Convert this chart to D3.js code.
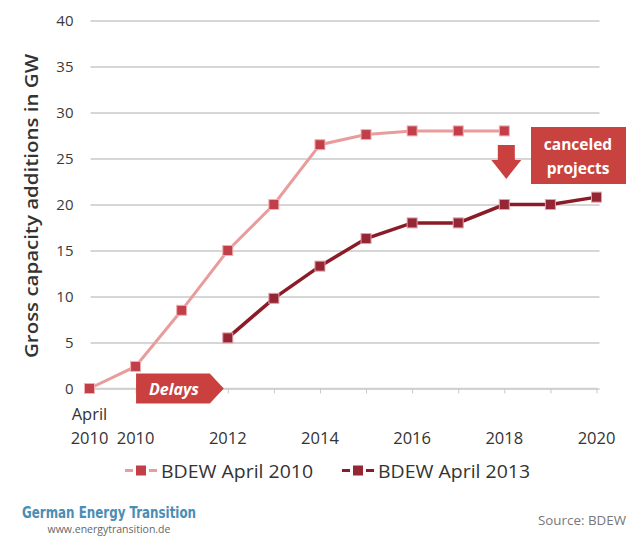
<!DOCTYPE html>
<html>
<head>
<meta charset="utf-8">
<script src="https://cdn.jsdelivr.net/npm/d3@7"></script>
<style>
  html, body { margin: 0; padding: 0; background: #fff; }
  svg { display: block; }
</style>
</head>
<body>
<svg id="chart" width="626" height="539"></svg>
<script>
const categories = ["April 2010","2010","2011","2012","2013","2014","2015","2016","2017","2018","2019","2020"];
const tickLabels = [["April","2010"],["2010"],[],["2012"],[],["2014"],[],["2016"],[],["2018"],[],["2020"]];
const seriesNames = ["BDEW April 2010","BDEW April 2013"];
const bdew2010 = [0, 2.4, 8.5, 15, 20, 26.5, 27.6, 28, 28, 28, null, null];
const bdew2013 = [null, null, null, 5.5, 9.8, 13.3, 16.3, 18, 18, 20, 20, 20.8];
const yTicks = [0,5,10,15,20,25,30,35,40];

(function () {
const FONT = "'Open Sans', 'DejaVu Sans', sans-serif";
const svg = d3.select("#chart");

const x = d3.scalePoint().domain(categories).range([89.5, 596.5]);
const y = d3.scaleLinear().domain([0, 40]).range([388.5, 20.5]);

// gridlines
const yAxis = d3.axisLeft(y).tickValues(yTicks).tickSize(-(596.5 - 89.5) - 2).tickPadding(17).tickFormat(d3.format("d"));
const gy = svg.append("g").attr("transform", "translate(90.5,0)").call(yAxis);
gy.select(".domain").remove();
gy.selectAll(".tick line").attr("stroke", "#d6d6d6").attr("stroke-width", 2);
gy.selectAll(".tick text").attr("fill", "#3a3a3a").style("font-family", FONT).style("font-size", "15px");

// x axis
const xAxis = d3.axisBottom(x).tickSize(5).tickFormat("");
const gx = svg.append("g").attr("transform", `translate(0,${y(0)})`).call(xAxis);
gx.select(".domain").attr("stroke", "#d0d0d0").attr("stroke-width", 1.5).attr("d", `M89.5,0H597`);
gx.selectAll(".tick line").attr("stroke", "#c8c8c8");

// x labels
categories.forEach((c, i) => {
  const lines = tickLabels[i];
  const t = svg.append("text").attr("text-anchor", "middle")
    .attr("fill", "#333").style("font-family", FONT).style("font-size", "16.5px");
  lines.forEach((ln, j) => {
    t.append("tspan").attr("x", x(c)).attr("y", 444 - (lines.length - 1 - j) * 24).text(ln);
  });
});

// y axis title
svg.append("text")
  .attr("transform", "translate(38,206) rotate(-90)")
  .attr("text-anchor", "middle")
  .attr("fill", "#333").style("font-family", FONT).style("font-size", "17.5px").style("font-weight", "600")
  .attr("textLength", 304).attr("lengthAdjust", "spacingAndGlyphs")
  .text("Gross capacity additions in GW");

// lines
const line = d3.line().defined(d => d.v != null).x(d => x(d.c)).y(d => y(d.v));
const d1 = categories.map((c, i) => ({c, v: bdew2010[i]}));
const d2 = categories.map((c, i) => ({c, v: bdew2013[i]}));

svg.append("path").datum(d1).attr("d", line).attr("fill", "none")
  .attr("stroke", "#e99c9c").attr("stroke-width", 3);
svg.append("path").datum(d2).attr("d", line).attr("fill", "none")
  .attr("stroke", "#8c1b28").attr("stroke-width", 3.5);

const ms = 10;
svg.append("g").selectAll("rect").data(d1.filter(d => d.v != null)).join("rect")
  .attr("x", d => x(d.c) - ms/2).attr("y", d => y(d.v) - ms/2)
  .attr("width", ms).attr("height", ms)
  .attr("fill", "#c23f4a").attr("stroke", "#f0b0b0").attr("stroke-width", 1);
svg.append("g").selectAll("rect").data(d2.filter(d => d.v != null)).join("rect")
  .attr("x", d => x(d.c) - ms/2).attr("y", d => y(d.v) - ms/2)
  .attr("width", ms).attr("height", ms)
  .attr("fill", "#952735").attr("stroke", "#e0a0a8").attr("stroke-width", 1);

// Delays arrow
const ax0 = x("2010") + 0.5, ax1 = x("2012") - 4, ay = y(0);
svg.append("path")
  .attr("d", `M${ax0},${ay-15}H${ax1-14}L${ax1},${ay}L${ax1-14},${ay+15}H${ax0}Z`)
  .attr("fill", "#c9403f");
svg.append("text").attr("x", (ax0 + ax1 - 12) / 2).attr("y", ay + 6)
  .attr("text-anchor", "middle").attr("fill", "#fff")
  .style("font-family", FONT).style("font-size", "16px").style("font-weight", "bold").style("font-style", "italic")
  .text("Delays");

// canceled projects
const cx = x("2018") + 2, arrowTop = y(28) + 14;
svg.append("path")
  .attr("d", `M${cx-8.5},${arrowTop}H${cx+8.5}V${arrowTop+15}H${cx+15}L${cx},${arrowTop+34}L${cx-15},${arrowTop+15}H${cx-8.5}Z`)
  .attr("fill", "#c9403f");
svg.append("rect").attr("x", 531).attr("y", 127).attr("width", 95).attr("height", 57).attr("fill", "#c8433f");
const ct = svg.append("text").attr("text-anchor", "middle").attr("fill", "#fff")
  .style("font-family", FONT).style("font-size", "15.5px").style("font-weight", "bold");
ct.append("tspan").attr("x", 578).attr("y", 150).text("canceled");
ct.append("tspan").attr("x", 578).attr("y", 174).text("projects");

// legend
const legend = [{name: seriesNames[0], line: "#e99c9c", mark: "#c23f4a", x0: 125},
                {name: seriesNames[1], line: "#8c1b28", mark: "#952735", x0: 342}];
legend.forEach(l => {
  const g = svg.append("g").attr("transform", `translate(${l.x0},470.5)`);
  g.append("line").attr("x1", 0).attr("x2", 8).attr("stroke", l.line).attr("stroke-width", 3);
  g.append("line").attr("x1", 24).attr("x2", 32).attr("stroke", l.line).attr("stroke-width", 3);
  g.append("rect").attr("x", 11).attr("y", -5).attr("width", 10).attr("height", 10).attr("fill", l.mark);
  g.append("text").attr("x", 36).attr("y", 7.5).attr("fill", "#333")
    .style("font-family", FONT).style("font-size", "19px")
    .attr("textLength", 152).attr("lengthAdjust", "spacingAndGlyphs")
    .text(l.name);
});

// footer
svg.append("text").attr("x", 22).attr("y", 518).attr("fill", "#4a8db5")
  .style("font-family", "'DejaVu Sans Condensed', 'DejaVu Sans', sans-serif").style("font-size", "15px").style("font-weight", "bold")
  .attr("textLength", 174).attr("lengthAdjust", "spacingAndGlyphs")
  .text("German Energy Transition");
svg.append("text").attr("x", 109).attr("y", 533).attr("text-anchor", "middle").attr("fill", "#666")
  .style("font-family", FONT).style("font-size", "10.5px")
  .text("www.energytransition.de");
svg.append("text").attr("x", 538).attr("y", 525).attr("fill", "#777")
  .style("font-family", FONT).style("font-size", "12px")
  .attr("textLength", 88).attr("lengthAdjust", "spacingAndGlyphs")
  .text("Source: BDEW");
})();
</script>
</body>
</html>
